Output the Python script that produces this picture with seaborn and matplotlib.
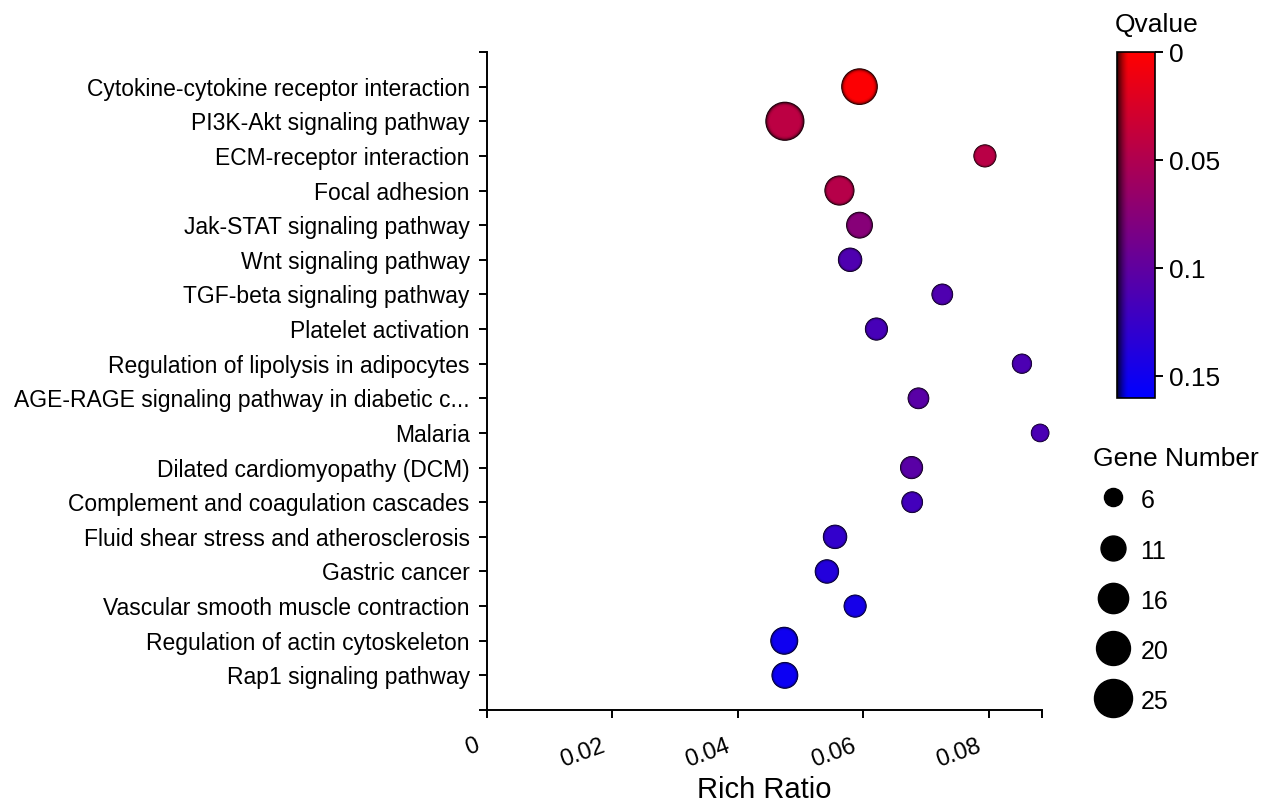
import numpy as np
import pandas as pd
import matplotlib
matplotlib.use("Agg")
import matplotlib.pyplot as plt
from matplotlib.colors import LinearSegmentedColormap, Normalize
from matplotlib.cm import ScalarMappable
from matplotlib.lines import Line2D
from matplotlib.transforms import ScaledTranslation
import seaborn as sns

# KEGG enrichment results
pathways = [
    "Cytokine-cytokine receptor interaction",
    "PI3K-Akt signaling pathway",
    "ECM-receptor interaction",
    "Focal adhesion",
    "Jak-STAT signaling pathway",
    "Wnt signaling pathway",
    "TGF-beta signaling pathway",
    "Platelet activation",
    "Regulation of lipolysis in adipocytes",
    "AGE-RAGE signaling pathway in diabetic c...",
    "Malaria",
    "Dilated cardiomyopathy (DCM)",
    "Complement and coagulation cascades",
    "Fluid shear stress and atherosclerosis",
    "Gastric cancer",
    "Vascular smooth muscle contraction",
    "Regulation of actin cytoskeleton",
    "Rap1 signaling pathway",
]
rich_ratio = [0.0594, 0.0475, 0.0794, 0.0562, 0.0594, 0.0579, 0.0726, 0.0621,
              0.0853, 0.0688, 0.0882, 0.0677, 0.0678, 0.0555, 0.0542, 0.0587,
              0.0474, 0.0475]
qvalue = [0.002, 0.042, 0.044, 0.046, 0.075, 0.110, 0.110, 0.115,
          0.112, 0.104, 0.113, 0.104, 0.118, 0.128, 0.138, 0.146,
          0.150, 0.152]
gene_number = [22, 25, 9, 15, 12, 10, 8, 9, 7, 8, 6, 9, 8, 10, 10, 9, 13, 12]

size_levels = [6, 11, 16, 20, 25]
q_ticks = [0, 0.05, 0.1, 0.15]
q_tick_labels = ["0", "0.05", "0.1", "0.15"]
x_ticks = [0, 0.02, 0.04, 0.06, 0.08]
x_tick_labels = ["0", "0.02", "0.04", "0.06", "0.08"]

df = pd.DataFrame({
    "pathway": pathways,
    "row": np.arange(len(pathways)),
    "ratio": rich_ratio,
    "q": qvalue,
    "genes": gene_number,
})

sns.set_theme(style="ticks")
plt.rcParams["font.family"] = ["Liberation Sans", "DejaVu Sans"]
plt.rcParams["text.color"] = "black"
plt.rcParams["axes.labelcolor"] = "black"
plt.rcParams["xtick.color"] = "black"
plt.rcParams["ytick.color"] = "black"

W, H = 1281, 802
fig = plt.figure(figsize=(W / 100, H / 100), dpi=100)
ax = fig.add_axes([487 / W, 1 - 710 / H, (1042 - 487) / W, 658 / H])

red, blue = np.array([1.0, 0.0, 0.0]), np.array([0.0, 0.0, 1.0])
cmap = LinearSegmentedColormap.from_list("red_blue", [red, blue])
q_norm = (0, 0.16)
size_range = (170, 750)
size_norm = (6, 25)
x_max = 0.0885

# shaded bubbles: concentric layers, darker towards the rim
layers = [(1.06, 0.10), (1.00, 0.30), (0.94, 0.50), (0.88, 0.68),
          (0.81, 0.84), (0.73, 0.95), (0.62, 1.00)]
for area_f, shade in layers:
    layer_cmap = LinearSegmentedColormap.from_list(
        f"red_blue_{shade}", [red * shade, blue * shade])
    sns.scatterplot(
        data=df, x="ratio", y="row", hue="q", size="genes",
        palette=layer_cmap, hue_norm=q_norm,
        sizes=(size_range[0] * area_f, size_range[1] * area_f),
        size_norm=size_norm, legend=False, ax=ax, linewidth=0,
        zorder=3, clip_on=False,
    )

ax.set_xlim(0, x_max)
ax.set_ylim(len(pathways), -1)
ax.set_yticks(df["row"])
ax.set_yticklabels(pathways, fontsize=16.5)
ax.set_yticks([-1, len(pathways)], minor=True)
ax.set_xticks(x_ticks)
ax.set_xticklabels(x_tick_labels, fontsize=17, rotation=20, ha="right",
                   rotation_mode="anchor")
ax.set_xticks([x_max], minor=True)
ax.tick_params(which="both", direction="out", length=5.5, width=1.4, color="black")
ax.tick_params(axis="y", which="major", pad=7)
ax.tick_params(axis="x", which="major", pad=12.5)
shift = ScaledTranslation(-0.12, 0, fig.dpi_scale_trans)
for lbl in ax.get_xticklabels():
    lbl.set_transform(lbl.get_transform() + shift)
ax.set_xlabel("Rich Ratio", fontsize=21, labelpad=3)
ax.set_ylabel("")
for side in ("top", "right"):
    ax.spines[side].set_visible(False)
for side in ("left", "bottom"):
    ax.spines[side].set_linewidth(1.4)
    ax.spines[side].set_color("black")

# colour bar for Qvalue
cax = fig.add_axes([1117 / W, 1 - 398 / H, 38 / W, 346 / H])
cb = fig.colorbar(ScalarMappable(norm=Normalize(*q_norm), cmap=cmap), cax=cax)
cax.invert_yaxis()
# soft shadow along the left side of the bar
shadow = np.zeros((2, 64, 4))
shadow[..., 3] = np.clip(1 - np.linspace(0, 1, 64) / 0.3, 0, 1) ** 1.5 * 0.8
cax.imshow(shadow, extent=(0, 1, q_norm[1], q_norm[0]), aspect="auto",
           interpolation="bilinear", zorder=2)
cax.set_xlim(0, 1)
cax.set_ylim(q_norm[1], q_norm[0])
cb.set_ticks(q_ticks)
cb.set_ticklabels(q_tick_labels)
cax.tick_params(labelsize=19, length=6, width=1.4, color="black", pad=4)
cb.outline.set_linewidth(1.2)
cb.outline.set_edgecolor("black")
fig.text(1115 / W, 1 - 32 / H, "Qvalue", fontsize=19, ha="left", va="baseline")

# size legend for Gene Number
def marker_area(n):
    lo, hi = size_norm
    return size_range[0] + (n - lo) / (hi - lo) * (size_range[1] - size_range[0])

handles = [
    Line2D([], [], linestyle="none", marker="o", markerfacecolor="black",
           markeredgecolor="black", markersize=np.sqrt(marker_area(n)))
    for n in size_levels
]
leg = fig.legend(
    handles, [str(n) for n in size_levels], title="Gene Number",
    loc="upper left", bbox_to_anchor=(1088 / W, 1 - 442 / H),
    frameon=False, fontsize=18, title_fontsize=19,
    handletextpad=0.3, labelspacing=0.92, handlelength=1.6, handleheight=1.3,
    borderaxespad=0, borderpad=0.2,
)
leg._legend_box.align = "left"
leg._legend_box.sep = 11

fig.savefig("out.png", dpi=100, facecolor="white")
